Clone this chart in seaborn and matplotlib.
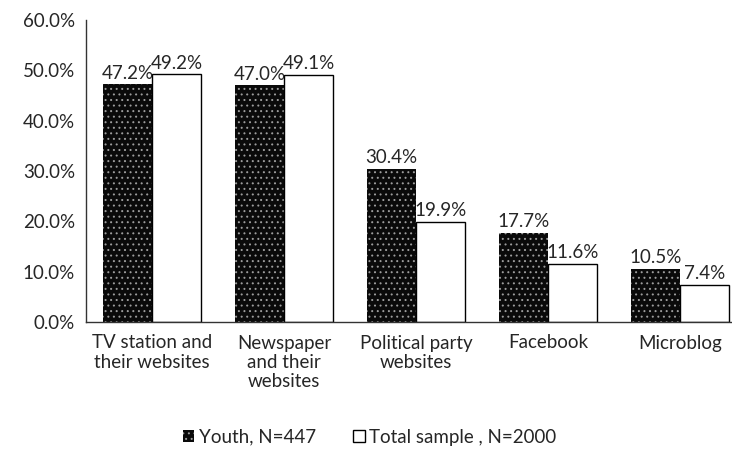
import numpy as np
import pandas as pd
import matplotlib
matplotlib.use('Agg')
import matplotlib.pyplot as plt
import seaborn as sns
from matplotlib.patches import Patch

# Values
categories = ['TV station and\ntheir websites', 'Newspaper\nand their\nwebsites',
              'Political party\nwebsites', 'Facebook', 'Microblog']
youth = [47.2, 47.0, 30.4, 17.7, 10.5]
total = [49.2, 49.1, 19.9, 11.6, 7.4]
series = ['Youth, N=447', 'Total sample , N=2000']

df = pd.DataFrame({
    'category': categories * 2,
    'value': youth + total,
    'series': [series[0]] * len(categories) + [series[1]] * len(categories),
})

sns.set_style('white')
plt.rcParams['font.family'] = ['Lato', 'DejaVu Sans']
plt.rcParams['hatch.linewidth'] = 0.7

FS = 13.5
DARK = '#0a0a0a'
SPECK = '#9c9c9c'
fig = plt.figure(figsize=(7.32, 4.67), dpi=100)
ax = fig.add_axes([86 / 732, 1 - 322 / 467, 660 / 732, 302 / 467])

sns.barplot(data=df, x='category', y='value', hue='series', order=categories,
            hue_order=series, palette=['#111111', 'white'], width=0.74,
            edgecolor='black', linewidth=1.0, legend=False, ax=ax)

n = len(categories)
for i, p in enumerate(ax.patches[:2 * n]):
    if i < n:
        p.set_facecolor(DARK)
        p.set_edgecolor(SPECK)
        p.set_hatch('...')
        p.set_linewidth(0)
    else:
        p.set_facecolor('white')
        p.set_edgecolor('black')

for container in ax.containers:
    ax.bar_label(container, fmt='%.1f%%', padding=2, fontsize=FS)

ax.set_xlim(-0.5, 4.5)
ax.set_ylim(0, 60)
ax.set_yticks(np.arange(0, 61, 10))
ax.set_yticklabels([f'{v:.1f}%' for v in np.arange(0, 61, 10)], fontsize=FS)
ax.set_xticklabels(categories, fontsize=FS, linespacing=1.15)
ax.set_xlabel('')
ax.set_ylabel('')
ax.tick_params(axis='y', length=0, pad=8)
ax.tick_params(axis='x', length=0, pad=9)
for s in ['top', 'right']:
    ax.spines[s].set_visible(False)
for s in ['left', 'bottom']:
    ax.spines[s].set_color('#333333')
    ax.spines[s].set_linewidth(1.0)

handles = [Patch(facecolor=DARK, edgecolor=SPECK, hatch='...', linewidth=0),
           Patch(facecolor='white', edgecolor='black', linewidth=1.0)]
fig.legend(handles, series, loc='center', bbox_to_anchor=(0.505, 0.064), ncol=2,
           frameon=False, fontsize=FS, handlelength=0.6, handleheight=0.6,
           handletextpad=0.25, columnspacing=2.0)

fig.savefig('out.png', dpi=100)
